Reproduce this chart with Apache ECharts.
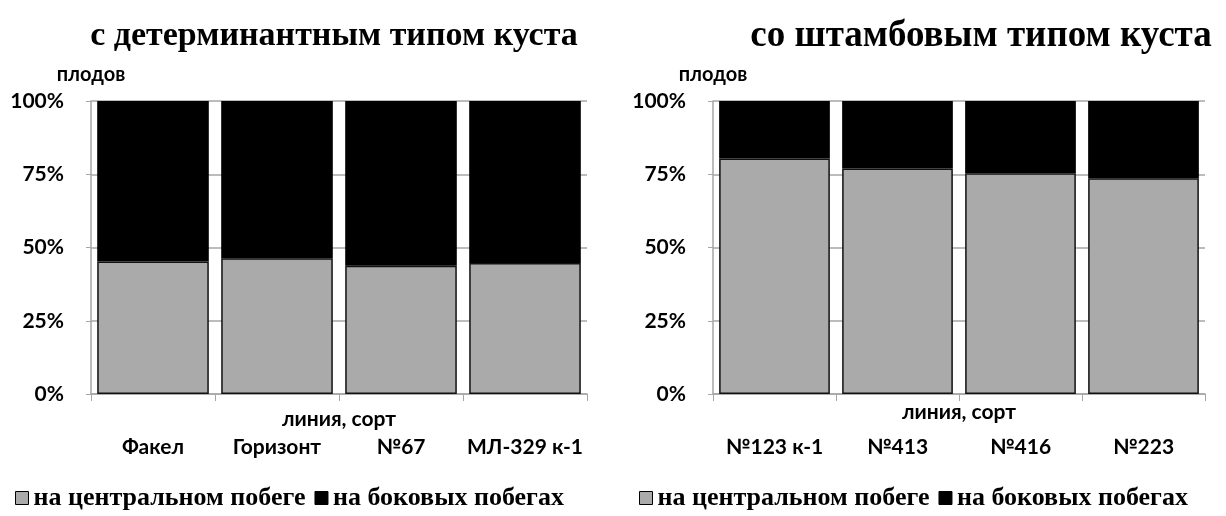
<!DOCTYPE html>
<html><head><meta charset="utf-8">
<script src="https://cdn.jsdelivr.net/npm/echarts@6/dist/echarts.min.js"></script>
<style>html,body{margin:0;padding:0;background:#fff}#c{width:1226px;height:516px}</style>
</head><body><div id="c"></div>
<script>
const categoriesLeft = ['Факел', 'Горизонт', '№67', 'МЛ-329 к-1'];
const centralLeft = [45.2, 46.3, 43.8, 44.7];
const lateralLeft = [54.8, 53.7, 56.2, 55.3];
const categoriesRight = ['№123 к-1', '№413', '№416', '№223'];
const centralRight = [80.4, 77.0, 75.3, 73.6];
const lateralRight = [19.6, 23.0, 24.7, 26.4];
const yTickStep = 25;
const seriesNames = ['на центральном побеге', 'на боковых побегах'];
const titles = ['с детерминантным типом куста', 'со штамбовым типом куста'];
const yAxisName = 'плодов';
const xAxisName = 'линия, сорт';

const SANS = 'Lato, "Open Sans", sans-serif';
const SERIF = '"Liberation Serif", "DejaVu Serif", serif';
const GRAY = '#aaaaaa';
const AXIS = '#a6a6a6';

const grids = [
  {left: 91, top: 101, width: 496, height: 293},
  {left: 713, top: 101, width: 492, height: 293}
];
const xNameGap = [15, 8];
const xLabelMargin = [43, 43];

function xAxis(i, cats) {
  return {
    type: 'category', gridIndex: i, data: cats,
    name: xAxisName, nameLocation: 'middle', nameGap: xNameGap[i], nameMoveOverlap: false,
    nameTextStyle: {fontFamily: SANS, fontSize: 21, color: '#000', fontWeight: 'bold', verticalAlign: 'top'},
    axisLine: {lineStyle: {color: AXIS, width: 1.5}},
    axisTick: {show: true, length: 7, lineStyle: {color: AXIS}},
    axisLabel: {interval: 0, fontFamily: SANS, fontSize: 21, color: '#000', fontWeight: 'bold', margin: xLabelMargin[i]}
  };
}
function yAxis(i) {
  return {
    type: 'value', gridIndex: i, min: 0, max: 100, interval: yTickStep,
    name: yAxisName, nameGap: 16,
    nameTextStyle: {fontFamily: SANS, fontSize: 20, color: '#000', fontWeight: 'bold', align: 'center'},
    axisLine: {show: true, lineStyle: {color: AXIS, width: 1.5}},
    axisTick: {show: true, length: 5, lineStyle: {color: AXIS}},
    splitLine: {show: true, lineStyle: {color: AXIS, width: 1.5}},
    axisLabel: {fontFamily: SANS, fontSize: 21, color: '#000', fontWeight: 'bold', margin: 27, formatter: v => v + '%'}
  };
}
function series(i, central, lateral) {
  return [
    {name: seriesNames[0], type: 'bar', stack: 's' + i, xAxisIndex: i, yAxisIndex: i,
     data: central, barCategoryGap: '10%',
     itemStyle: {color: GRAY, borderColor: '#111', borderWidth: 1.5}},
    {name: seriesNames[1], type: 'bar', stack: 's' + i, xAxisIndex: i, yAxisIndex: i,
     data: lateral, barCategoryGap: '10%',
     itemStyle: {color: '#000', borderColor: '#000', borderWidth: 1.5}}
  ];
}
const legendCommon = {
  data: seriesNames, icon: 'rect', itemWidth: 13, itemHeight: 13, itemGap: 9,
  textStyle: {fontFamily: SERIF, fontSize: 26, fontWeight: 'bold', color: '#000'},
  itemStyle: {borderColor: '#000', borderWidth: 1}
};

const option = {
  animation: false,
  backgroundColor: '#fff',
  title: [
    {text: titles[0], left: 329, top: 14, textAlign: 'center',
     textStyle: {fontFamily: SERIF, fontSize: 34, fontWeight: 'bold', color: '#000'}},
    {text: titles[1], left: 976, top: 13, textAlign: 'center',
     textStyle: {fontFamily: SERIF, fontSize: 37, fontWeight: 'bold', color: '#000'}}
  ],
  legend: [
    Object.assign({left: 10, top: 480}, legendCommon),
    Object.assign({left: 634, top: 480}, legendCommon)
  ],
  grid: grids,
  xAxis: [xAxis(0, categoriesLeft), xAxis(1, categoriesRight)],
  yAxis: [yAxis(0), yAxis(1)],
  series: series(0, centralLeft, lateralLeft).concat(series(1, centralRight, lateralRight))
};
const chart = echarts.init(document.getElementById('c'));
chart.setOption(option);
</script></body></html>
